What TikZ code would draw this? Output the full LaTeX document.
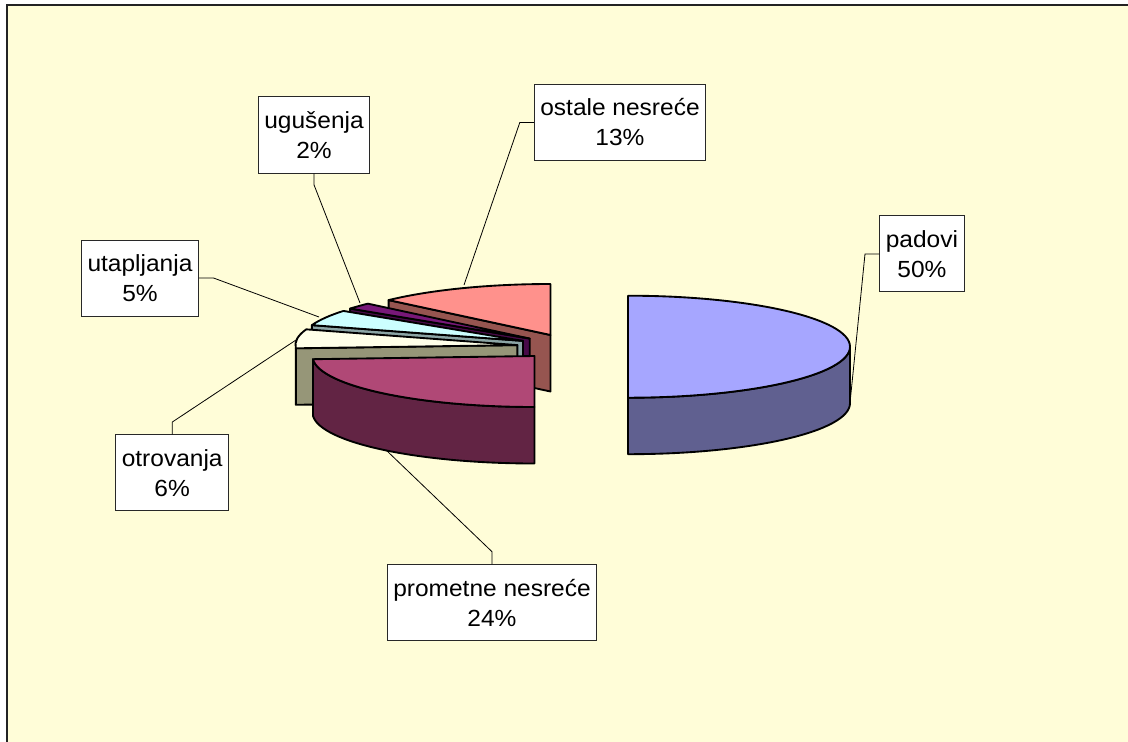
\documentclass[tikz,border=0pt]{standalone}
\usepackage{fontspec}
\setmainfont{Liberation Sans}[FakeStretch=1.05]
\usepackage{tikz}

\begin{document}
\begin{tikzpicture}[x=0.75pt,y=0.75pt,yscale=-1,xscale=1,
  slice/.style={draw=black, line width=1.4pt, line join=round},
  labelbox/.style={draw={rgb, 255:red, 40; green, 40; blue, 40 }, fill=white, line width=0.75pt, align=center, inner xsep=4.5pt, inner ysep=0pt, minimum height=57pt, font=\fontsize{17.5}{22.5}\selectfont},
  leader/.style={draw=black, line width=0.6pt}]
\useasboundingbox (0,0) rectangle (1128,742);

%Shape: Background
\fill [white] (0,0) rectangle (1128,742);
\fill [color={rgb, 255:red, 255; green, 253; blue, 216 }] (7,5) rectangle (1128,742);
\draw [color={rgb, 255:red, 35; green, 35; blue, 35 }, line width=1.5pt] (7,742) -- (7,5) -- (1128,5);

%Shape: ostale nesrece, cut face and top
\draw [slice, fill={rgb, 255:red, 150; green, 85; blue, 80 }] (550.46,335) -- (388.63,300.09) -- (388.63,356.59) -- (550.46,391.5) -- cycle;
\draw [slice, fill={rgb, 255:red, 255; green, 145; blue, 140 }] (550.46,335) -- (388.63,300.09) arc[start angle=223.2, end angle=270, x radius=222, y radius=51] -- cycle;
%Shape: ugusenja, cut face and top
\draw [slice, fill={rgb, 255:red, 72; green, 10; blue, 72 }] (529.74,338.57) -- (350.14,308.59) -- (350.14,365.09) -- (529.74,395.07) -- cycle;
\draw [slice, fill={rgb, 255:red, 120; green, 24; blue, 120 }] (529.74,338.57) -- (350.14,308.59) arc[start angle=216, end angle=223.2, x radius=222, y radius=51] -- cycle;
%Shape: utapljanja, cut face and top
\draw [slice, fill={rgb, 255:red, 140; green, 165; blue, 165 }] (523.05,340.9) -- (311.92,325.14) -- (311.92,381.64) -- (523.05,397.4) -- cycle;
\draw [slice, fill={rgb, 255:red, 204; green, 255; blue, 255 }] (523.05,340.9) -- (311.92,325.14) arc[start angle=198, end angle=216, x radius=222, y radius=51] -- cycle;
%Shape: otrovanja, cut face and top
\draw [slice, fill={rgb, 255:red, 150; green, 150; blue, 120 }] (517.4,345.1) -- (295.84,348.3) -- (295.84,404.8) -- (517.4,401.6) -- cycle;
\draw [slice, fill={rgb, 255:red, 255; green, 255; blue, 232 }] (517.4,345.1) -- (295.84,348.3) arc[start angle=176.4, end angle=198, x radius=222, y radius=51] -- cycle;
%Shape: prometne nesrece, side and top
\draw [slice, fill={rgb, 255:red, 98; green, 36; blue, 68 }] (534.5,407) arc[start angle=90, end angle=176.4, x radius=222, y radius=51] -- (312.94,415.7) arc[start angle=176.4, end angle=90, x radius=222, y radius=51] -- cycle;
\draw [slice, fill={rgb, 255:red, 176; green, 72; blue, 118 }] (534.5,356) -- (534.5,407) arc[start angle=90, end angle=176.4, x radius=222, y radius=51] -- cycle;
%Shape: padovi, side and top
\draw [slice, fill={rgb, 255:red, 96; green, 96; blue, 144 }] (850,346.7) arc[start angle=0, end angle=90, x radius=222, y radius=51] -- (628,454.2) arc[start angle=90, end angle=0, x radius=222, y radius=51] -- cycle;
\draw [slice, fill={rgb, 255:red, 166; green, 166; blue, 255 }] (628,346.7) -- (628,295.7) arc[start angle=-90, end angle=90, x radius=222, y radius=51] -- cycle;

%Leader ends
\coordinate (tipPadovi) at (850,403);
\coordinate (tipOstale) at (464,285);
\coordinate (tipUgusenja) at (360,303);
\coordinate (tipUtapljanja) at (319,317);
\coordinate (tipOtrovanja) at (296,340);
\coordinate (tipPrometne) at (386,450);

% Text Node
\node [labelbox] (padovi) at (921.9,253.9) {padovi\\50\%};
% Text Node
\node [labelbox] (ostale) at (620,122.4) {ostale nesreće\\13\%};
% Text Node
\node [labelbox] (ugusenja) at (314,135) {ugušenja\\2\%};
% Text Node
\node [labelbox] (utapljanja) at (140,278) {utapljanja\\5\%};
% Text Node
\node [labelbox] (otrovanja) at (172.2,472.9) {otrovanja\\6\%};
% Text Node
\node [labelbox] (prometne) at (492,602.5) {prometne nesreće\\24\%};

%Straight Lines
\draw [leader] (padovi.west) -- ++(-14.3,0) -- (tipPadovi);
\draw [leader] (ostale.west) -- ++(-14,0) -- (tipOstale);
\draw [leader] (ugusenja.south) -- ++(0,11.3) -- (tipUgusenja);
\draw [leader] (utapljanja.east) -- ++(14.6,0) -- (tipUtapljanja);
\draw [leader] (otrovanja.north) -- ++(0,-12.3) -- (tipOtrovanja);
\draw [leader] (prometne.north) -- ++(0,-12.3) -- (tipPrometne);

\end{tikzpicture}
\end{document}
